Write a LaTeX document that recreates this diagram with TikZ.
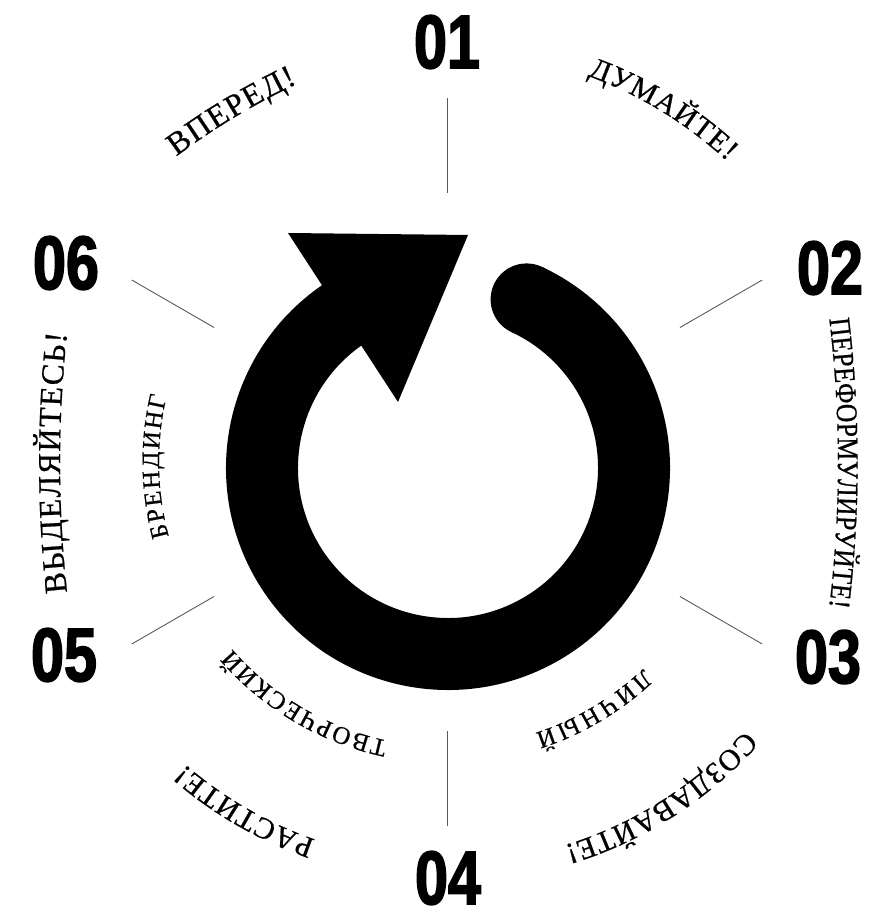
\documentclass[tikz,border=0pt]{standalone}
\usepackage{fontspec}
\setmainfont{Liberation Serif}[FakeBold=0.6]
\newfontfamily\numfont{Liberation Sans Bold}[FakeStretch=0.78,FakeBold=2]
\newfontfamily\condserif{Liberation Serif}[FakeStretch=0.86,FakeBold=0.6]
\usetikzlibrary{decorations.text}
\newcommand\lblout{\fontsize{30}{30}\selectfont}
\newcommand\lblbig{\fontsize{32}{32}\selectfont}
\newcommand\lblcond{\condserif\fontsize{30}{30}\selectfont}
\newcommand\lblin{\fontsize{25}{25}\selectfont}
\begin{document}
\begin{tikzpicture}[x=1pt,y=1pt,
  tick/.style={draw=black!65, line width=0.9pt},
  num/.style={font=\numfont\fontsize{76}{76}\selectfont, inner sep=0pt},
  arctext/.style={decorate, decoration={text along path, text align=fit to path, text={#1}}}
]
\useasboundingbox (0,0) rectangle (881,919);
\coordinate (L) at (447,457);
\coordinate (R) at (448,451);
% ticks
\foreach \a/\e in {90/1,30/2,-30/3,-90/4,210/5,150/6} {
  \coordinate (ta\e) at ([shift={(\a:269)}]L);
  \coordinate (tb\e) at ([shift={(\a:364)}]L);
  \draw[tick] (ta\e) -- (tb\e);
}
% numbers
\node[num] (n1) at (447,877) {01};
\node[num] (n2) at (830,651) {02};
\node[num] (n3) at (828,262) {03};
\node[num] (n4) at (448,41) {04};
\node[num] (n5) at (64,264) {05};
\node[num] (n6) at (66,656) {06};
% ring arrow
\draw[line width=72, line cap=butt] ([shift={(123:186)}]R) arc[start angle=123, end angle=425, radius=186];
\fill ([shift={(65:186)}]R) circle[radius=36];
\coordinate (hA) at (288,686);
\coordinate (hB) at (468,684);
\coordinate (hC) at (398,517);
\fill (hA) -- (hB) -- (hC) -- cycle;
% label arc centres
\coordinate (cV) at ([shift={(-59:700)}]235,802);
\coordinate (cR) at (-362,456);
\coordinate (cL) at (1260,456);
% outer labels
\path[arctext={|\lblbig|ВПЕРЕД!}] ([shift={(126.8:700)}]cV) arc[start angle=126.8, end angle=115.2, radius=700];
\path[arctext={|\lblout|ДУМАЙТЕ!}] ([shift={(70:411)}]L) arc[start angle=70, end angle=47, radius=411];
\path[arctext={|\lblcond|ПЕРЕФОРМУЛИРУЙТЕ!}] ([shift={(6.9:1200)}]cR) arc[start angle=6.9, end angle=-6.9, radius=1200];
\path[arctext={|\lblout|СОЗДАВАЙТЕ!}] ([shift={(-42:401)}]L) arc[start angle=-42, end angle=-73, radius=401];
\path[arctext={|\lblout|РАСТИТЕ!}] ([shift={(250.8:400)}]L) arc[start angle=250.8, end angle=229, radius=400];
\path[arctext={|\lblbig|ВЫДЕЛЯЙТЕСЬ!}] ([shift={(186.2:1200)}]cL) arc[start angle=186.2, end angle=173.8, radius=1200];
% inner labels
\path[arctext={|\lblin|БРЕНДИНГ}] ([shift={(195:288)}]L) arc[start angle=195, end angle=166.8, radius=288];
\path[arctext={|\lblin|ТВОРЧЕСКИЙ}] ([shift={(258:285)}]L) arc[start angle=258, end angle=221, radius=285];
\path[arctext={|\lblin|ЛИЧНЫЙ}] ([shift={(-46.5:285)}]L) arc[start angle=-46.5, end angle=-72, radius=285];
\end{tikzpicture}
\end{document}
